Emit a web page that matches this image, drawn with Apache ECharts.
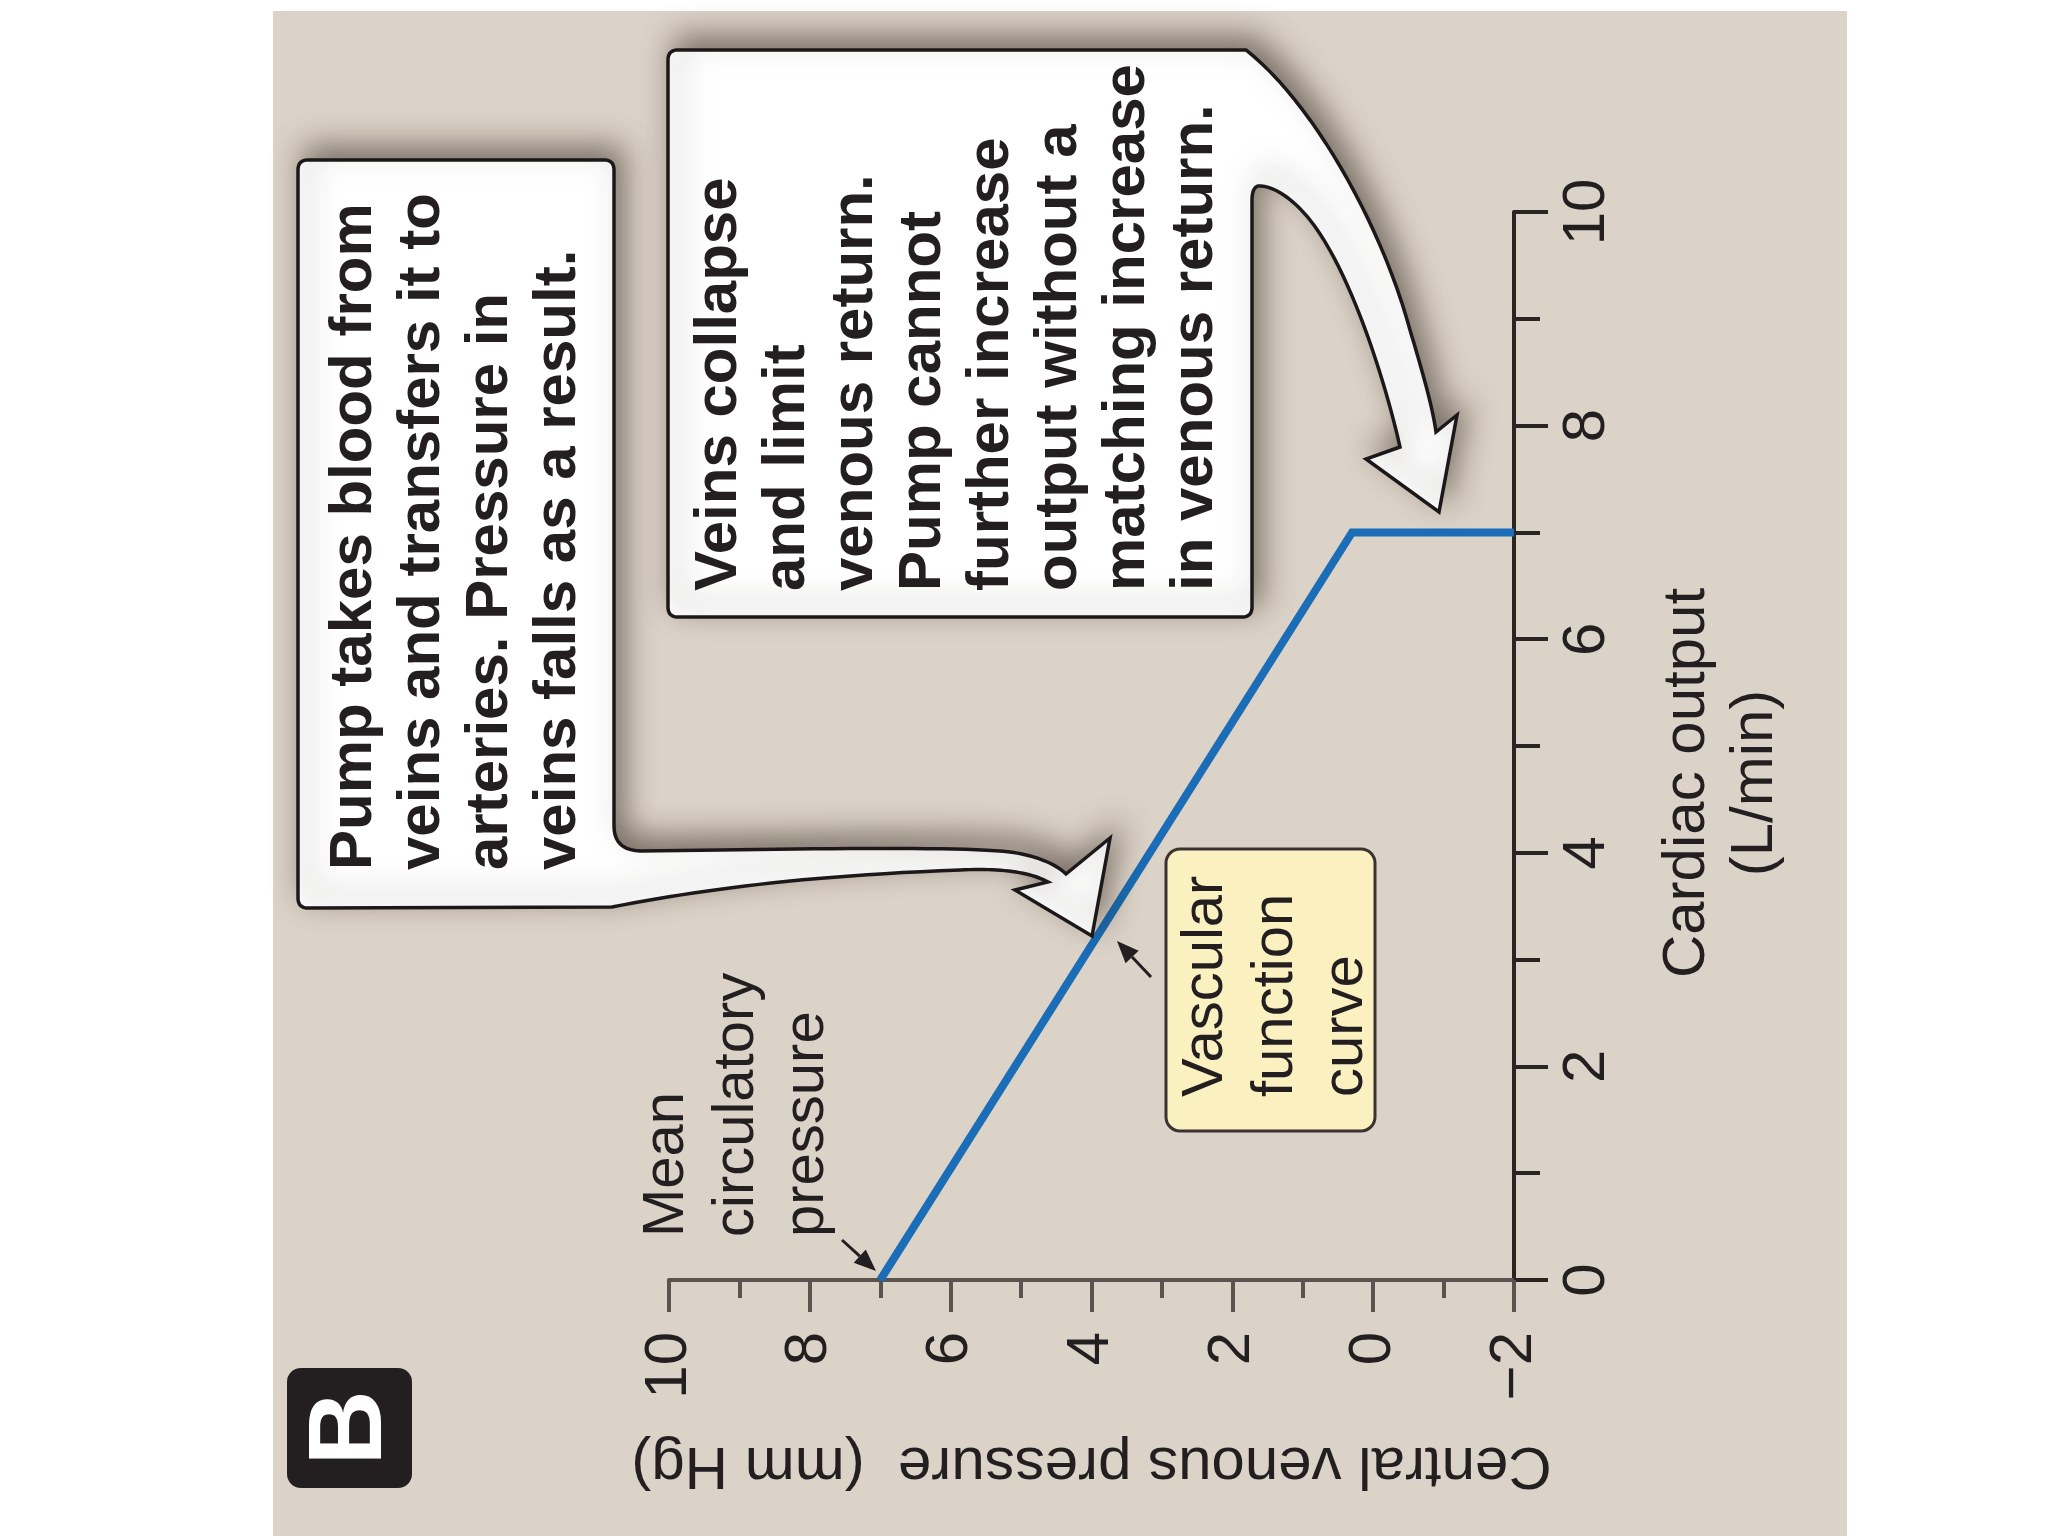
<!DOCTYPE html>
<html>
<head>
<meta charset="utf-8">
<script src="https://cdn.jsdelivr.net/npm/echarts@6/dist/echarts.min.js"></script>
<style>html,body{margin:0;padding:0;background:#fff;}#chart{width:2048px;height:1536px;}</style>
</head>
<body>
<div id="chart"></div>
<script>
// ---- data ----
const cvpValues = [7, 0.3, -2];          // central venous pressure (mm Hg)
const coValues = [0, 7, 7];              // cardiac output (L/min)
const cvpTicks = [-2, 0, 2, 4, 6, 8, 10];
const cvpTickLabels = ['\u22122', '0', '2', '4', '6', '8', '10'];
const coTicks = [0, 2, 4, 6, 8, 10];
const coTickLabels = ['0', '2', '4', '6', '8', '10'];
const cvpAxisName = 'Central venous pressure  (mm Hg)';
const coAxisName = 'Cardiac output\n(L/min)';
const leftNote = ['Pump takes blood from', 'veins and transfers it to', 'arteries. Pressure in', 'veins falls as a result.'];
const rightNote = ['Veins collapse', 'and limit', 'venous return.', 'Pump cannot', 'further increase', 'output without a', 'matching increase', 'in venous return.'];
const vascNote = ['Vascular', 'function', 'curve'];
const meanNote = ['Mean', 'circulatory', 'pressure'];
const panelLetter = 'B';

// ---- helpers ----
const INK = '#231f20';
const SANS = '"Liberation Sans", Arial, Helvetica, sans-serif';
const NARROW = '"Liberation Sans Narrow", "Arial Narrow", "Liberation Sans", Arial, sans-serif';

function buildPts(cmds) {
  const pts = []; let cur = null;
  cmds.forEach(c => {
    if (c[0] === 'M' || c[0] === 'L') { cur = c[1]; pts.push(cur); }
    else if (c[0] === 'Q') {
      const p0 = cur, p1 = c[1], p2 = c[2];
      for (let i = 1; i <= 10; i++) { const t = i / 10, u = 1 - t;
        pts.push([u*u*p0[0] + 2*u*t*p1[0] + t*t*p2[0], u*u*p0[1] + 2*u*t*p1[1] + t*t*p2[1]]); }
      cur = p2;
    } else if (c[0] === 'C') {
      const p0 = cur, p1 = c[1], p2 = c[2], p3 = c[3];
      for (let i = 1; i <= 24; i++) { const t = i / 24, u = 1 - t;
        pts.push([u*u*u*p0[0] + 3*u*u*t*p1[0] + 3*u*t*t*p2[0] + t*t*t*p3[0],
                  u*u*u*p0[1] + 3*u*u*t*p1[1] + 3*u*t*t*p2[1] + t*t*t*p3[1]]); }
      cur = p3;
    }
  });
  return pts;
}
function smallArrow(from, to, len, half) {
  const dx = to[0] - from[0], dy = to[1] - from[1], d = Math.hypot(dx, dy), ux = dx / d, uy = dy / d;
  const bx = to[0] - ux * len, by = to[1] - uy * len;
  return [
    { type: 'line', z: 12, shape: { x1: from[0], y1: from[1], x2: bx, y2: by }, style: { stroke: INK, lineWidth: 3 } },
    { type: 'polygon', z: 12, shape: { points: [to, [bx - uy * half, by + ux * half], [bx + uy * half, by - ux * half]] }, style: { fill: INK } }
  ];
}
function vtext(x, y, lines, font, lh, align, valign) {
  return { type: 'text', x: x, y: y, rotation: Math.PI / 2, z: 20,
    style: { text: lines.join('\n'), font: font, fill: INK, lineHeight: lh,
      align: align, textAlign: align, verticalAlign: valign, textVerticalAlign: valign } };
}

const calloutStyle = { fill: '#ffffff', stroke: '#1c1819', lineWidth: 3.5, lineJoin: 'miter',
  shadowBlur: 30, shadowColor: 'rgba(45,35,25,0.55)', shadowOffsetX: 8, shadowOffsetY: -12 };

const leftCallout = buildPts([
  ['M', [308, 160]], ['L', [604, 160]], ['Q', [614, 160], [614, 170]],
  ['L', [614, 826]], ['Q', [614, 850], [640, 851]],
  ['C', [800, 849], [960, 846], [1010, 852]],
  ['C', [1040, 856], [1058, 866], [1066, 874]],
  ['L', [1110, 838]], ['L', [1092, 936]], ['L', [1015, 890]], ['L', [1048, 882]],
  ['C', [1030, 872], [1000, 868], [960, 870]],
  ['C', [800, 876], [700, 890], [612, 907]],
  ['L', [308, 908]], ['Q', [298, 908], [298, 898]],
  ['L', [298, 170]], ['Q', [298, 160], [308, 160]]
]);
const rightCallout = buildPts([
  ['M', [678, 50]], ['L', [1246, 50]],
  ['C', [1310, 100], [1380, 220], [1410, 330]],
  ['C', [1425, 380], [1433, 410], [1436, 432]],
  ['L', [1457, 415]], ['L', [1439, 512]], ['L', [1366, 459]], ['L', [1400, 447]],
  ['C', [1385, 380], [1350, 270], [1310, 220]],
  ['C', [1290, 195], [1270, 185], [1258, 186]], ['Q', [1252, 188], [1252, 200]],
  ['L', [1252, 607]], ['Q', [1252, 617], [1242, 617]],
  ['L', [678, 617]], ['Q', [668, 617], [668, 607]],
  ['L', [668, 60]], ['Q', [668, 50], [678, 50]]
]);

const graphicEls = [
  { type: 'rect', z: -10, shape: { x: 273, y: 11, width: 1574, height: 1525 }, style: { fill: '#dcd3c8' } },
  { type: 'polygon', z: 10, shape: { points: leftCallout }, style: calloutStyle },
  { type: 'polygon', z: 10, shape: { points: rightCallout }, style: calloutStyle },
  { type: 'rect', z: 10, shape: { x: 1166, y: 849, width: 209, height: 282, r: 14 },
    style: { fill: '#fbf0c0', stroke: '#3b3330', lineWidth: 3 } },
  { type: 'rect', z: 10, shape: { x: 287, y: 1368, width: 125, height: 120, r: 14 }, style: { fill: INK } },
  { type: 'text', x: 352, y: 1428, rotation: Math.PI / 2, z: 20,
    style: { text: panelLetter, font: 'bold 104px ' + SANS, fill: '#ffffff',
      align: 'center', textAlign: 'center', verticalAlign: 'middle', textVerticalAlign: 'middle' } },
  vtext(320, 870, leftNote, 'bold 60px ' + SANS, 68, 'left', 'top'),
  vtext(685, 591, rightNote, 'bold 60px ' + SANS, 68, 'left', 'top'),
  vtext(1276, 1097, vascNote, '58px ' + SANS, 70, 'left', 'middle'),
  vtext(632, 1237, meanNote, '58px ' + SANS, 70, 'left', 'top')
].concat(smallArrow([842, 1240], [876, 1271], 22, 9))
 .concat(smallArrow([1151, 977], [1117, 941], 22, 9));

const chart = echarts.init(document.getElementById('chart'), null, { renderer: 'canvas' });
chart.setOption({
  backgroundColor: '#ffffff',
  animation: false,
  grid: { left: 669, right: 534, top: 212, bottom: 256, containLabel: false },
  xAxis: {
    type: 'value', min: -2, max: 10, interval: 2, inverse: true, position: 'bottom',
    name: cvpAxisName, nameLocation: 'middle', nameRotate: 180, nameGap: 150,
    nameTextStyle: { fontFamily: SANS, fontSize: 60, color: INK, lineHeight: 70 },
    axisLine: { show: true, onZero: false, lineStyle: { color: '#5b534d', width: 4 } },
    axisTick: { show: true, inside: false, length: 32, lineStyle: { color: '#5b534d', width: 4 } },
    minorTick: { show: true, splitNumber: 2, length: 18, lineStyle: { color: '#5b534d', width: 4 } },
    splitLine: { show: false }, minorSplitLine: { show: false },
    axisLabel: { rotate: 90, margin: 52, fontFamily: NARROW, fontSize: 60, color: INK,
      formatter: v => { const i = cvpTicks.indexOf(v); return i >= 0 ? cvpTickLabels[i] : ''; } }
  },
  yAxis: {
    type: 'value', min: 0, max: 10, interval: 2, position: 'right',
    name: coAxisName, nameLocation: 'middle', nameRotate: 90, nameGap: 139,
    nameTextStyle: { fontFamily: SANS, fontSize: 60, color: INK, lineHeight: 68, align: 'center', padding: [0, 74, 0, 0] },
    axisLine: { show: true, onZero: false, lineStyle: { color: '#2a2523', width: 4 } },
    axisTick: { show: true, inside: false, length: 34, lineStyle: { color: '#2a2523', width: 4 } },
    minorTick: { show: true, splitNumber: 2, length: 26, lineStyle: { color: '#2a2523', width: 4 } },
    splitLine: { show: false }, minorSplitLine: { show: false },
    axisLabel: { rotate: 90, margin: 43, fontFamily: NARROW, fontSize: 60, color: INK,
      formatter: v => { const i = coTicks.indexOf(v); return i >= 0 ? coTickLabels[i] : ''; } }
  },
  series: [{
    type: 'line', name: 'Vascular function curve',
    data: cvpValues.map((v, i) => [v, coValues[i]]),
    symbol: 'none', showSymbol: false, clip: false, z: 3,
    lineStyle: { color: '#1a6db6', width: 8, join: 'miter', cap: 'butt' }
  }],
  graphic: { elements: graphicEls }
});
</script>
</body>
</html>
